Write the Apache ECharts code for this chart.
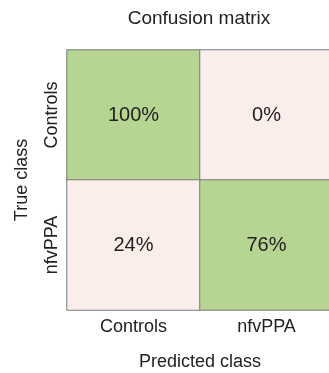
<!DOCTYPE html>
<html>
<head>
<meta charset="utf-8">
<script src="https://cdn.jsdelivr.net/npm/echarts@6/dist/echarts.min.js"></script>
<style>html,body{margin:0;padding:0;background:#fff;}#c{width:329px;height:373px;}</style>
</head>
<body>
<div id="c"></div>
<script>
const predictedClasses = ['Controls', 'nfvPPA'];
const trueClasses = ['Controls', 'nfvPPA'];
// rows = true class, columns = predicted class (percent)
const controlsRow = [100, 0];
const nfvPPARow = [24, 76];

const rows = [controlsRow, nfvPPARow];
const data = [];
rows.forEach((row, yi) => row.forEach((v, xi) => data.push([xi, yi, v])));

const chart = echarts.init(document.getElementById('c'));
const font = 'Liberation Sans, Arial, sans-serif';
chart.setOption({
  animation: false,
  title: {
    text: 'Confusion matrix', left: 194, top: 4, textAlign: 'center',
    textStyle: { fontFamily: font, fontSize: 19, fontWeight: 'normal', color: '#222' }
  },
  grid: { left: 67, width: 266, top: 50, height: 260, outerBoundsMode: 'none', containLabel: false },
  xAxis: {
    type: 'category', data: predictedClasses,
    name: 'Predicted class', nameLocation: 'middle', nameGap: 43,
    nameTextStyle: { fontFamily: font, fontSize: 18, color: '#222' },
    axisLine: { show: false }, axisTick: { show: false }, splitLine: { show: false },
    axisLabel: { margin: 8, fontFamily: font, fontSize: 18, color: '#222' }
  },
  yAxis: {
    type: 'category', data: trueClasses, inverse: true,
    name: 'True class', nameLocation: 'middle', nameGap: 36,
    nameTextStyle: { fontFamily: font, fontSize: 18, color: '#222' },
    axisLine: { show: false }, axisTick: { show: false }, splitLine: { show: false },
    axisLabel: { rotate: 90, margin: 6, fontFamily: font, fontSize: 18, color: '#222' }
  },
  visualMap: {
    show: false, type: 'piecewise', dimension: 2,
    pieces: [
      { lt: 50, color: '#fbedea' },
      { gte: 50, color: '#b6d592' }
    ]
  },
  series: [{
    type: 'heatmap', data: data,
    itemStyle: { borderColor: '#7d7d7d', borderWidth: 1 },
    label: {
      show: true, fontFamily: font, fontSize: 20, color: '#222',
      formatter: p => p.value[2] + '%'
    },
    emphasis: { disabled: true }
  }]
});
</script>
</body>
</html>
